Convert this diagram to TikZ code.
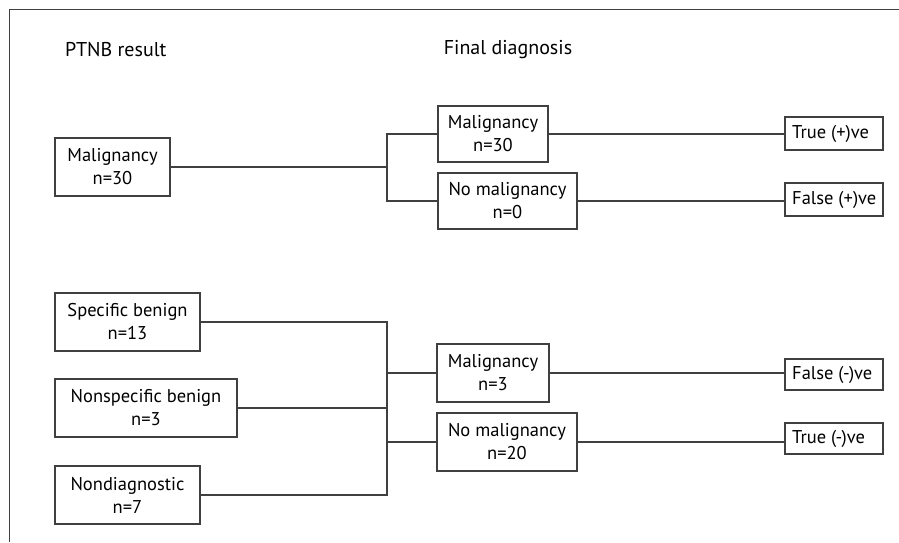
\documentclass[tikz,border=0pt]{standalone}
\usepackage{fontspec}
\setmainfont{PT Sans}
\begin{document}
\begin{tikzpicture}[x=1pt,y=-1pt,
  line/.style={draw=black!75, line width=1.2pt},
  box/.style={line, rectangle, inner sep=0pt, align=center, font=\fontsize{18.5}{23}\selectfont},
  tag/.style={line, rectangle, inner sep=0pt},
  lbl/.style={font=\fontsize{18.5}{23}\selectfont, inner sep=0pt},
  head/.style={font=\fontsize{20}{23}\selectfont, inner sep=0pt}]
\useasboundingbox (0,0) rectangle (899,542);
\draw[line] (899,9.5) -- (9.5,9.5) -- (9.5,542);
\node[head, anchor=west] (h1) at (65,50) {PTNB result};
\node[head] (h2) at (508,50) {Final diagnosis};
% boxes
\node[box, minimum width=115pt, minimum height=58pt] (pm) at (112.5,167) {Malignancy\\n=30};
\node[box, minimum width=110pt, minimum height=56pt] (fm1) at (493,134) {Malignancy\\n=30};
\node[box, minimum width=139pt, minimum height=56pt] (fn1) at (507.5,201) {No malignancy\\n=0};
\node[box, minimum width=145pt, minimum height=58pt] (sb) at (127.5,322) {Specific benign\\n=13};
\node[box, minimum width=182pt, minimum height=58pt] (nb) at (146,408) {Nonspecific benign\\n=3};
\node[box, minimum width=145pt, minimum height=58pt] (nd) at (127.5,495) {Nondiagnostic\\n=7};
\node[box, minimum width=112pt, minimum height=58pt] (fm2) at (493,373) {Malignancy\\n=3};
\node[box, minimum width=140pt, minimum height=58pt] (fn2) at (507,442) {No malignancy\\n=20};
\node[tag, minimum width=98pt, minimum height=33pt] (tp) at (834,133.5) {};
\node[tag, minimum width=98pt, minimum height=33pt] (fp) at (834,199.5) {};
\node[tag, minimum width=98pt, minimum height=31pt] (fn) at (834,374.5) {};
\node[tag, minimum width=98pt, minimum height=31pt] (tn) at (834,438.5) {};
\node[lbl, anchor=west] (tpt) at (792,134) {True (+)ve};
\node[lbl, anchor=west] (fpt) at (792,200) {False (+)ve};
\node[lbl, anchor=west] (fnt) at (792,375) {False (-)ve};
\node[lbl, anchor=west] (tnt) at (792,439) {True (-)ve};
% junctions
\coordinate (j1) at (387,167);
\coordinate (j2) at (387,400);
\draw[line] (pm.east) -- (j1);
\draw[line] (fm1.west) -- (fm1.west -| j1) -- (fn1.west -| j1) -- (fn1.west);
\draw[line] (sb.east) -- (sb.east -| j2) -- (nd.east -| j2) -- (nd.east);
\draw[line] (nb.east) -- (nb.east -| j2);
\draw[line] (fm2.west) -- (fm2.west -| j2);
\draw[line] (fn2.west) -- (fn2.west -| j2);
\draw[line] (fm1.east) -- (fm1.east -| tp.west);
\draw[line] (fn1.east) -- (fn1.east -| fp.west);
\draw[line] (fm2.east) -- (fm2.east -| fn.west);
\draw[line] (fn2.east) -- (fn2.east -| tn.west);
\end{tikzpicture}
\end{document}
